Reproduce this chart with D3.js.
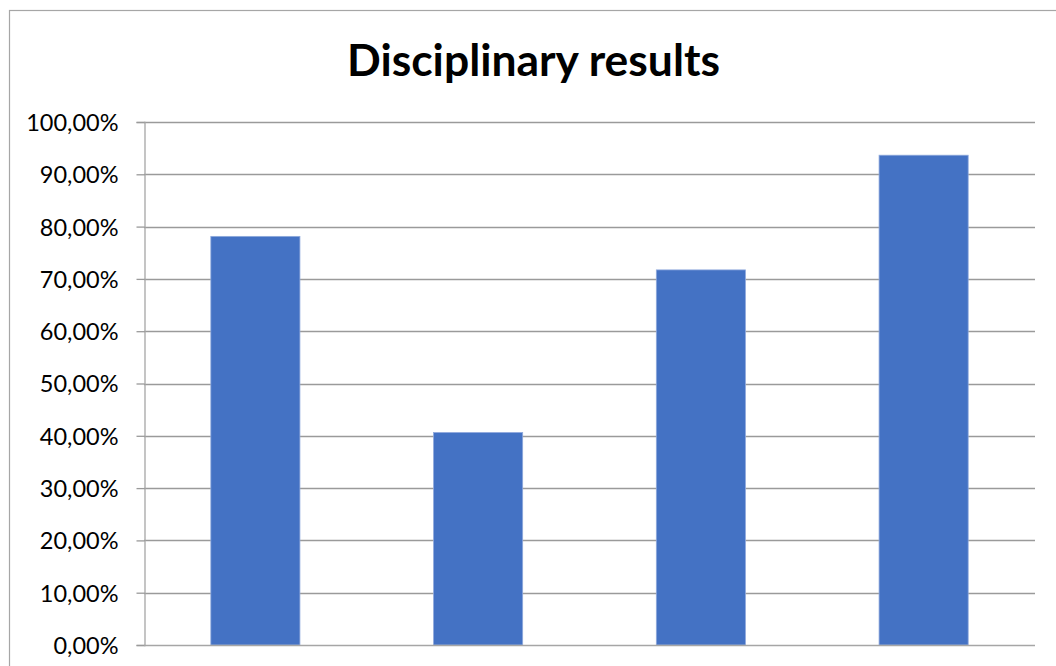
<!DOCTYPE html>
<html>
<head>
<meta charset="utf-8">
<script src="https://cdn.jsdelivr.net/npm/d3@7"></script>
<style>
  html, body { margin: 0; padding: 0; background: #fff; }
  svg { display: block; }
</style>
</head>
<body>
<svg id="chart" width="1056" height="666"></svg>
<script>
// Share of positive results per discipline
const categories = ["A", "B", "C", "D"];
const values = [0.7813, 0.4063, 0.7172, 0.9365];
const tickValues = [0, 0.1, 0.2, 0.3, 0.4, 0.5, 0.6, 0.7, 0.8, 0.9, 1.0];
const titleText = "Disciplinary results";

const svg = d3.select("#chart");
const margin = { left: 144, right: 1035, top: 122, bottom: 645 };

// Outer chart frame (runs past the right and bottom edges)
svg.append("rect")
  .attr("x", 9.5).attr("y", 10.5)
  .attr("width", 1070).attr("height", 690)
  .attr("fill", "#fff")
  .attr("stroke", "#a6a6a6")
  .attr("stroke-width", 1.2);

const x = d3.scaleBand()
  .domain(categories)
  .range([margin.left, margin.right])
  .paddingInner(0.6)
  .paddingOuter(0.3);

const y = d3.scaleLinear()
  .domain([0, 1])
  .range([margin.bottom, margin.top]);

const fmt = v => (v * 100).toFixed(2).replace(".", ",") + "%";

// Horizontal gridlines
svg.append("g")
  .selectAll("line")
  .data(tickValues.filter(t => t > 0))
  .join("line")
  .attr("x1", margin.left).attr("x2", margin.right)
  .attr("y1", d => Math.round(y(d)) + 0.5)
  .attr("y2", d => Math.round(y(d)) + 0.5)
  .attr("stroke", "#9a9a9a")
  .attr("stroke-width", 1.3);

// Y axis
const yAxis = svg.append("g")
  .attr("transform", `translate(${margin.left + 0.5},0)`)
  .call(d3.axisLeft(y).tickValues(tickValues).tickFormat(fmt).tickSize(8).tickPadding(18));
yAxis.select(".domain").attr("stroke", "#a6a6a6").attr("stroke-width", 1.3);
yAxis.selectAll(".tick line").attr("stroke", "#9a9a9a").attr("stroke-width", 1.3);
yAxis.selectAll(".tick text")
  .attr("fill", "#000")
  .attr("dy", "0.36em")
  .style("font-family", "Lato, 'Open Sans', sans-serif")
  .style("font-size", "23.5px");

// Bars
svg.append("g")
  .selectAll("rect")
  .data(values)
  .join("rect")
  .attr("x", (d, i) => x(categories[i]))
  .attr("width", x.bandwidth())
  .attr("y", d => y(d))
  .attr("height", d => y(0) - y(d))
  .attr("fill", "#4472c4")
  .attr("stroke", "#8fa9dc")
  .attr("stroke-width", 0.8);

// Baseline axis
svg.append("line")
  .attr("x1", margin.left).attr("x2", margin.right)
  .attr("y1", margin.bottom + 0.5).attr("y2", margin.bottom + 0.5)
  .attr("stroke", "#a6a6a6")
  .attr("stroke-width", 1.5);

// Title, sized to fit its slot
const title = svg.append("text")
  .attr("x", 533.5)
  .attr("y", 76)
  .attr("text-anchor", "middle")
  .attr("fill", "#000")
  .style("font-family", "Lato, 'Open Sans', sans-serif")
  .style("font-weight", "bold")
  .style("font-size", "40px")
  .text(titleText);
const tw = title.node().getComputedTextLength();
title.style("font-size", (40 * 373 / tw).toFixed(2) + "px");
</script>
</body>
</html>
